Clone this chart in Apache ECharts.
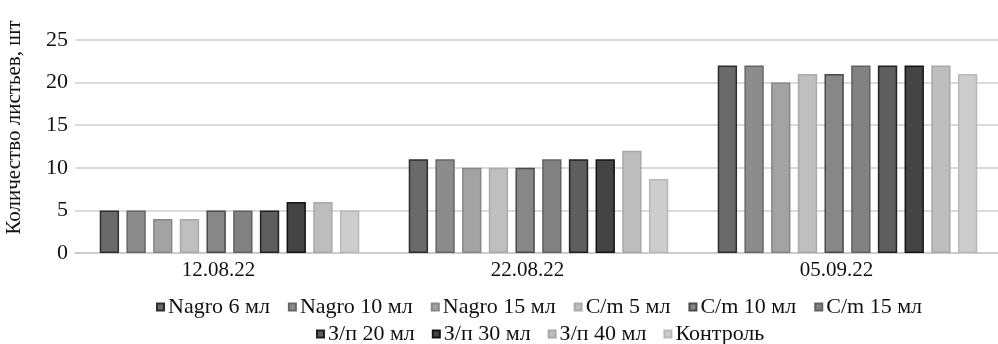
<!DOCTYPE html>
<html><head><meta charset="utf-8">
<script src="https://cdn.jsdelivr.net/npm/echarts@6/dist/echarts.min.js"></script>
<style>html,body{margin:0;padding:0;background:#fff}#c{width:998px;height:344px}</style>
</head><body><div id="c"></div>
<script>
const categories = ['12.08.22', '22.08.22', '05.09.22'];
const seriesNames = ['Nagro 6 мл','Nagro 10 мл','Nagro 15 мл','C/m 5 мл','C/m 10 мл','C/m 15 мл','З/п 20 мл','З/п 30 мл','З/п 40 мл','Контроль'];
const nagro6 = [5, 11, 22];
const nagro10 = [5, 11, 22];
const nagro15 = [4, 10, 20];
const cm5 = [4, 10, 21];
const cm10 = [5, 10, 21];
const cm15 = [5, 11, 22];
const zp20 = [5, 11, 22];
const zp30 = [6, 11, 22];
const zp40 = [6, 12, 22];
const control = [5, 8.7, 21];
const yTicks = [0, 5, 10, 15, 20, 25];

const values = [nagro6, nagro10, nagro15, cm5, cm10, cm15, zp20, zp30, zp40, control];
const fills = ['#6a6a6a','#8c8c8c','#a3a3a3','#bfbfbf','#878787','#828282','#5e5e5e','#444444','#bdbdbd','#cdcdcd'];
const borders = ['#2e2e2e','#666666','#878787','#aaaaaa','#4a4a4a','#626262','#222222','#141414','#a8a8a8','#b8b8b8'];
const font = '"Liberation Serif", "Times New Roman", serif';

const chart = echarts.init(document.getElementById('c'), null, {renderer: 'canvas'});
chart.setOption({
  animation: false,
  backgroundColor: '#fff',
  grid: {left: 75, right: -4, top: 40, bottom: 91, containLabel: false, outerBoundsMode: 'none'},
  legend: [
    {data: seriesNames.slice(0, 6), top: 291, left: 151, itemWidth: 7, itemHeight: 7, itemGap: 18, icon: 'rect',
     textStyle: {fontFamily: font, fontSize: 22, color: '#111', padding: [0,0,0,-1]}},
    {data: seriesNames.slice(6), top: 318, left: 311, itemWidth: 7, itemHeight: 7, itemGap: 17, icon: 'rect',
     textStyle: {fontFamily: font, fontSize: 22, color: '#111', padding: [0,0,0,-1]}}
  ],
  xAxis: {
    type: 'category', data: categories,
    axisLine: {lineStyle: {color: '#c8c8c8', width: 1.5}},
    axisTick: {show: false},
    axisLabel: {fontFamily: font, fontSize: 21, color: '#111', margin: 7, padding: [0, 22, 0, 0]}
  },
  yAxis: {
    type: 'value', min: 0, max: 25, interval: 5,
    name: 'Количество листьев, шт', nameLocation: 'middle', nameGap: 50,
    nameTextStyle: {fontFamily: font, fontSize: 21, color: '#111', padding: [0,0,0,38]},
    axisLine: {show: false}, axisTick: {show: false},
    axisLabel: {fontFamily: font, fontSize: 22, color: '#111', margin: 7,
      formatter: v => yTicks.includes(v) ? String(v) : ''},
    splitLine: {lineStyle: {color: '#cfcfcf', width: 1.5}}
  },
  series: seriesNames.map((n, i) => ({
    name: n, type: 'bar', data: values[i],
    barGap: '38%', barCategoryGap: '16%',
    itemStyle: {color: fills[i], borderColor: borders[i], borderWidth: 1.5}
  }))
});
</script></body></html>
